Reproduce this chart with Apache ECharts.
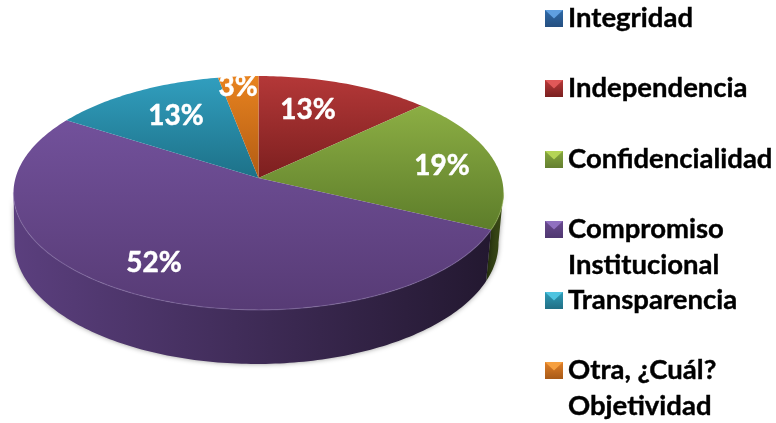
<!DOCTYPE html>
<html><head><meta charset="utf-8">
<style>html,body{margin:0;padding:0;background:#fff}#c{width:776px;height:423px}</style>
<script src="https://cdn.jsdelivr.net/npm/echarts@6/dist/echarts.min.js"></script>
</head><body><div id="c"></div>
<script>
const categories = ['Integridad','Independencia','Confidencialidad','Compromiso Institucional','Transparencia','Otra, ¿Cuál? Objetividad'];
const legendLines = ['Integridad','Independencia','Confidencialidad','\nCompromiso\nInstitucional','Transparencia','\nOtra, ¿Cuál?\nObjetividad'];
const values = [0,13,19,52,13,3];
const topColors = [['#4f81bd','#2b5c94'],['#b43838','#7c1f1f'],['#8cae44','#5d7d2a'],['#72519b','#573b75'],['#319ebe','#1d7188'],['#e8831f','#b25c14']];
const wallColors = [['#1d3c63','#1d3c63'],['#5c1818','#5c1818'],['#2a3610','#3c4c17'],['#5b3f7e','#231830'],['#13505f','#13505f'],['#7d4210','#7d4210']];
const rimColors = ['#5b8ec9','#c25050','#9dbb5c','#8d77b0','#4fb0cc','#ee9a45'];
const iconColors = [['#2f6aa8','#254f80'],['#b83a3a','#7a2020'],['#86a83e','#647f30'],['#6a4a90','#4f3770'],['#2f9cb8','#216f85'],['#e08028','#a85a18']];
const iconLight = ['#5f9fe0','#e05858','#b4d456','#9070c0','#4fc4e0','#f6a040'];
const legendTops = [10,80,151,221,292,362];
const labelCenters = [null,[308,110],[442,166],[154,263],[176,116],[238,87]];

const k=0.128, cx=258.5, topCy=178, topA=115, topB=243, botCx=256.5, botCy=227.5, botA=119, botB=240;
const frontStart=97, frontEnd=263;
const rad=d=>d*Math.PI/180;
function proj(a,x0,cy,A,B,r){const u=r*Math.sin(a),v=r*Math.cos(a),d=1+k*v;return [x0+B*u/d,cy-A*v/d];}
function arc(a0,a1,x0,cy,A,B){const n=Math.max(2,Math.ceil((a1-a0)/rad(1)));const p=[];for(let i=0;i<=n;i++)p.push(proj(a0+(a1-a0)*i/n,x0,cy,A,B,1));return p;}
const total=values.reduce((s,v)=>s+v,0);
const grad=(x,y,c)=>new echarts.graphic.LinearGradient(0,0,x,y,[{offset:0,color:c[0]},{offset:1,color:c[1]}]);

const series=categories.map((name,i)=>({
  type:'custom',name,coordinateSystem:'none',silent:true,
  itemStyle:{color:grad(0,1,iconColors[i])},
  data:[[values[i],values.slice(0,i).reduce((s,v)=>s+v,0)]],
  renderItem(params,api){
    const val=api.value(0);
    if(!val) return {type:'group',children:[]};
    const a0=rad(api.value(1)/total*360), a1=a0+rad(val/total*360);
    const t=arc(a0,a1,cx,topCy,topA,topB);
    const c=proj(0,cx,topCy,topA,topB,0);
    const kids=[
      {type:'polygon',z2:10,shape:{points:[c].concat(t)},style:{fill:grad(0,1,topColors[i])}},
      {type:'text',z2:20,style:{text:Math.round(val/total*100)+'%',x:labelCenters[i][0],y:labelCenters[i][1],
        fill:'#fff',font:'bold 28px Lato',align:'center',verticalAlign:'middle',stroke:'#fff',lineWidth:0.5}}
    ];
    const f0=Math.max(a0,rad(frontStart)), f1=Math.min(a1,rad(frontEnd));
    if(f1>f0){
      const ft=arc(f0,f1,cx,topCy,topA,topB), fb=arc(f0,f1,botCx,botCy,botA,botB);
      kids.push({type:'polygon',z2:1,shape:{points:ft.concat(fb.slice().reverse())},
        style:{fill:grad(1,0,wallColors[i]),shadowBlur:5,shadowColor:'rgba(0,0,0,0.4)'}});
      kids.push({type:'polyline',z2:11,shape:{points:ft},style:{fill:null,stroke:rimColors[i],lineWidth:1.2,opacity:0.45}});
    }
    return {type:'group',children:kids};
  }
}));

const legend=categories.map((name,i)=>({
  data:[{name,icon:'rect',itemStyle:{color:grad(0,1,iconColors[i])}}],
  left:545,top:legendLines[i][0]==='\n'?legendTops[i]-45.5:legendTops[i]-9.5,
  orient:'vertical',itemWidth:18,itemHeight:17,selectedMode:false,padding:0,itemGap:0,
  formatter:()=>legendLines[i],
  textStyle:{color:'#000',fontFamily:'Lato',fontWeight:'bold',fontSize:27.5,lineHeight:36,textBorderColor:'#000',textBorderWidth:0.4}
}));

const bevels=legendTops.map((y,i)=>({type:'polygon',z:20,silent:true,
  shape:{points:[[545,y],[563,y],[554,y+8.5]]},style:{fill:iconLight[i]}}));

const chart=echarts.init(document.getElementById('c'),null,{renderer:'canvas'});
chart.setOption({animation:false,backgroundColor:'#fff',tooltip:{show:false},legend,series,graphic:bevels});
</script></body></html>
